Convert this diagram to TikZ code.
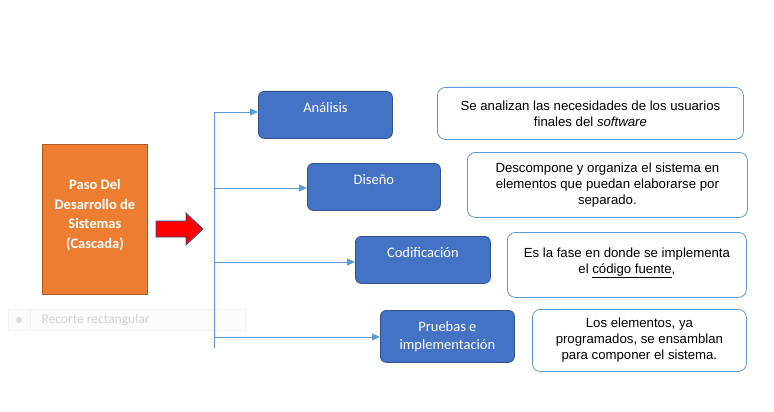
\documentclass[tikz,border=0pt]{standalone}
\usepackage{fontspec}
\setmainfont{Liberation Sans}
\newfontfamily\calibri{Carlito}
\usetikzlibrary{arrows.meta}
\definecolor{pasonaranja}{HTML}{ED7D31}
\definecolor{pasoborde}{HTML}{AE5A21}
\definecolor{faseazul}{HTML}{4472C4}
\definecolor{faseborde}{HTML}{2F528F}
\definecolor{lineaazul}{HTML}{5B9BD5}
\begin{document}
\begin{tikzpicture}[x=1pt, y=-1pt,
		fase/.style={draw=faseborde, fill=faseazul, line width=0.8pt, rounded corners=6pt,
			text=white, font=\calibri\fontsize{14.5}{18}\selectfont, align=center,
			anchor=north west, inner sep=0pt},
		nota/.style={draw=lineaazul, fill=white, line width=0.8pt, rounded corners=8pt,
			font=\fontsize{13.2}{16}\selectfont, align=center, anchor=north west, inner sep=0pt},
		rama/.style={draw=lineaazul, line width=0.8pt, -{Triangle[length=8pt, width=7pt]}}]
		\useasboundingbox (0, 0) rectangle (774, 412);

		% recorte fantasma
		\draw[draw=black!5, fill=black!1] (8, 309) rectangle (245, 330);
		\draw[draw=black!6] (30, 310) -- (30, 329);
		\fill[black!13] (19, 320) circle (3);
		\node[anchor=west, text=black!18, font=\calibri\fontsize{13.5}{16}\selectfont] (recorte) at (38, 320) {Recorte rectangular};

		\node[draw=pasoborde, fill=pasonaranja, line width=0.8pt, anchor=north west, inner sep=0pt,
			minimum width=105pt, minimum height=150pt, text=white, align=center, text depth=11pt,
			font=\calibri\bfseries\fontsize{14.5}{19.5}\selectfont] (paso) at (42, 144)
			{Paso Del\\Desarrollo de\\Sistemas\\(Cascada)};

		\draw[draw=faseborde, fill=red, line width=0.8pt]
		(156, 221) --
		(186, 221) --
		(186, 213) --
		(203, 229) --
		(186, 245) --
		(186, 237) --
		(156, 237) --
		cycle;

		\node[fase, minimum width=134pt, minimum height=47pt, text depth=14pt] (analisis) at (258, 91) {Análisis};
		\node[fase, minimum width=133pt, minimum height=47pt, text depth=14pt] (diseno) at (307, 163) {Diseño};
		\node[fase, minimum width=135pt, minimum height=47pt, text depth=14pt] (codif) at (355, 236) {Codificación};
		\node[fase, minimum width=134pt, minimum height=52pt] (pruebas) at (380, 310) {Pruebas e\\implementación};

		\node[nota, minimum width=306pt, minimum height=52pt] (nanalisis) at (437, 87)
			{Se analizan las necesidades de los usuarios\\finales del \textit{software}};
		\node[nota, minimum width=280pt, minimum height=65pt] (ndiseno) at (467, 152)
			{Descompone y organiza el sistema en\\elementos que puedan elaborarse por\\separado.};
		\node[nota, minimum width=239pt, minimum height=65pt, text depth=9pt] (ncodif) at (507, 232)
			{Es la fase en donde se implementa\\el \underline{código fuente},};
		\node[nota, minimum width=214pt, minimum height=62pt] (npruebas) at (532, 309)
			{Los elementos, ya\\programados, se ensamblan\\para componer el sistema.};

		\coordinate (t1) at (214, 112);
		\coordinate (t2) at (214, 188);
		\coordinate (t3) at (214, 262);
		\coordinate (t4) at (214, 337);
		\coordinate (tfin) at (214, 348);

		\draw[draw=lineaazul, line width=0.8pt] (t1) -- (tfin);
		\draw[rama] (t1) -- (t1 -| analisis.west);
		\draw[rama] (t2) -- (t2 -| diseno.west);
		\draw[rama] (t3) -- (t3 -| codif.west);
		\draw[rama] (t4) -- (t4 -| pruebas.west);
	\end{tikzpicture}
\end{document}
